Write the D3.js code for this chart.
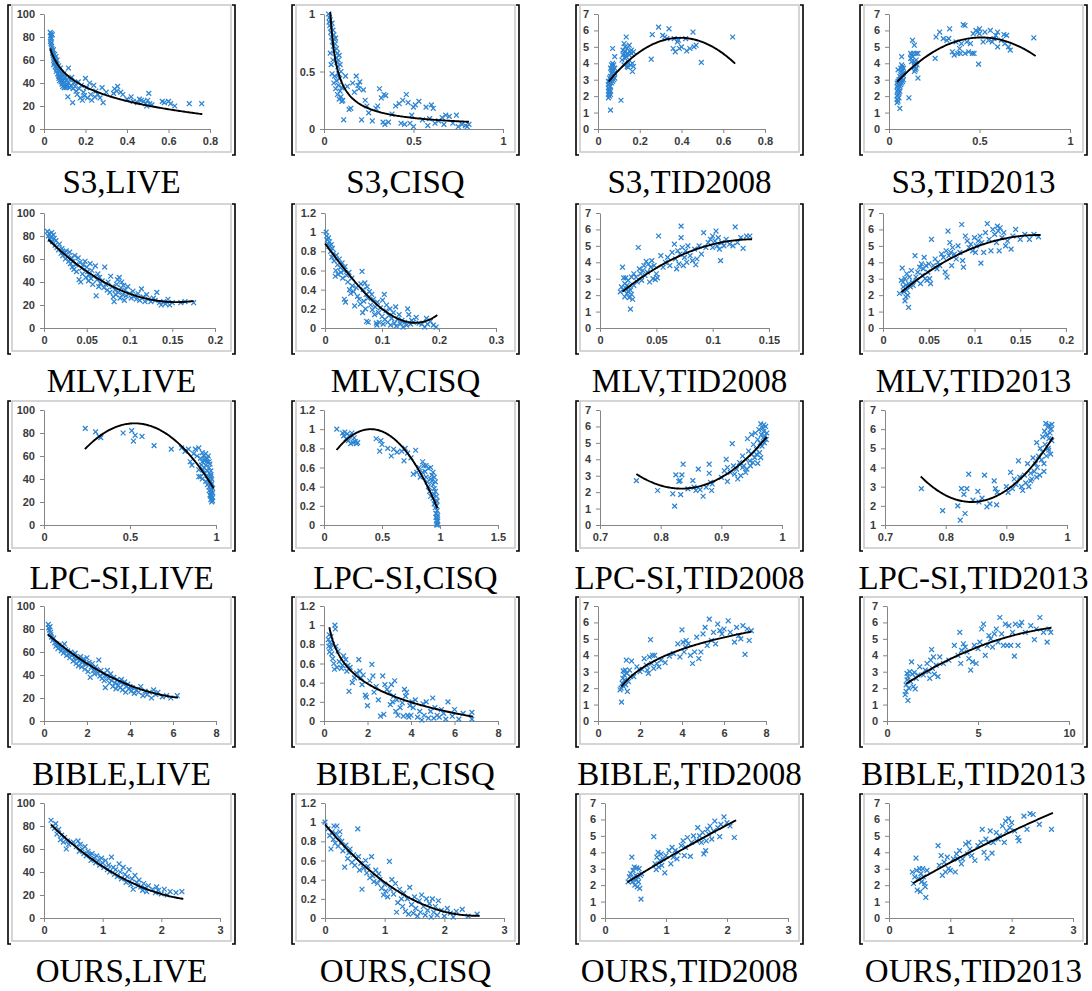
<!DOCTYPE html>
<html><head><meta charset="utf-8">
<script src="https://cdn.jsdelivr.net/npm/d3@7"></script>
<style>body{margin:0;background:#fff}svg{display:block}</style>
</head><body>
<svg id="chart" width="1092" height="991"></svg>
<script>
// ---------- DATA ----------
const methods = ["S3", "MLV", "LPC-SI", "BIBLE", "OURS"];
const datasets = ["LIVE", "CISQ", "TID2008", "TID2013"];

// x tick values per panel (row-major)
const xTicks = [
  [0,0.2,0.4,0.6,0.8],[0,0.5,1],[0,0.2,0.4,0.6,0.8],[0,0.5,1],
  [0,0.05,0.1,0.15,0.2],[0,0.1,0.2,0.3],[0,0.05,0.1,0.15],[0,0.05,0.1,0.15,0.2],
  [0,0.5,1],[0,0.5,1,1.5],[0.7,0.8,0.9,1],[0.7,0.8,0.9,1],
  [0,2,4,6,8],[0,2,4,6,8],[0,2,4,6,8],[0,5,10],
  [0,1,2,3],[0,1,2,3],[0,1,2,3],[0,1,2,3]
];
const yLive = [0,20,40,60,80,100];
const yCisqS3 = [0,0.5,1];
const yCisq = [0,0.2,0.4,0.6,0.8,1,1.2];
const yTid = [0,1,2,3,4,5,6,7];
const yTidLpc = [1,2,3,4,5,6,7];
const yTicks = [
  yLive,yCisqS3,yTid,yTid,
  yLive,yCisq,yTid,yTid,
  yLive,yCisq,yTid,yTidLpc,
  yLive,yCisq,yTid,yTid,
  yLive,yCisq,yTid,yTid
];

const s3Live = [[0.030,84],[0.032,81],[0.033,78],[0.031,76],[0.035,83],[0.036,79],[0.034,74],[0.037,72],[0.038,70],[0.040,82],[0.042,68],[0.041,66],[0.044,64],[0.045,69],[0.046,62],[0.048,60],[0.050,58],[0.047,56],[0.052,65],[0.053,61],[0.055,57],[0.054,54],[0.057,63],[0.058,59],[0.060,52],[0.059,50],[0.062,56],[0.063,60],[0.065,54],[0.066,48],[0.068,51],[0.070,46],[0.071,55],[0.072,44],[0.074,50],[0.075,42],[0.077,47],[0.079,53],[0.080,45],[0.082,41],[0.084,49],[0.085,43],[0.087,39],[0.089,46],[0.090,37],[0.092,42],[0.094,40],[0.095,48],[0.097,36],[0.099,44],[0.100,41],[0.102,38],[0.104,45],[0.106,36],[0.108,42],[0.110,39],[0.112,37],[0.115,28],[0.118,53],[0.120,40],[0.123,36],[0.126,43],[0.130,38],[0.134,45],[0.138,23],[0.140,35],[0.145,40],[0.150,37],[0.155,33],[0.160,30],[0.165,41],[0.170,35],[0.175,27],[0.180,38],[0.185,25],[0.190,32],[0.195,29],[0.200,44],[0.205,36],[0.210,27],[0.220,40],[0.225,30],[0.230,25],[0.240,38],[0.245,28],[0.250,33],[0.260,30],[0.270,27],[0.280,36],[0.285,23],[0.300,32],[0.335,31],[0.340,35],[0.350,33],[0.355,37],[0.370,32],[0.380,30],[0.400,26],[0.420,28],[0.430,24],[0.450,23],[0.460,26],[0.470,25],[0.480,24],[0.490,22],[0.495,20],[0.500,25],[0.505,31],[0.510,22],[0.520,21],[0.570,24],[0.580,23],[0.600,24],[0.610,22],[0.630,20],[0.700,22],[0.760,22]];
const s3Cisq = [[0.025,1.0],[0.03,0.97],[0.028,0.93],[0.035,0.95],[0.032,0.9],[0.04,0.88],[0.038,0.84],[0.045,0.92],[0.042,0.8],[0.05,0.86],[0.048,0.76],[0.052,0.72],[0.055,0.82],[0.058,0.78],[0.06,0.68],[0.062,0.74],[0.065,0.79],[0.07,0.7],[0.068,0.62],[0.075,0.66],[0.072,0.58],[0.08,0.6],[0.078,0.54],[0.085,0.64],[0.082,0.48],[0.09,0.56],[0.088,0.44],[0.095,0.5],[0.035,0.66],[0.04,0.56],[0.045,0.48],[0.05,0.6],[0.055,0.4],[0.06,0.46],[0.065,0.35],[0.07,0.42],[0.075,0.3],[0.08,0.38],[0.085,0.26],[0.09,0.33],[0.095,0.28],[0.1,0.24],[0.1,0.36],[0.105,0.25],[0.11,0.08],[0.12,0.46],[0.13,0.37],[0.14,0.17],[0.15,0.18],[0.16,0.4],[0.17,0.32],[0.18,0.46],[0.19,0.38],[0.195,0.35],[0.2,0.41],[0.21,0.08],[0.22,0.34],[0.23,0.25],[0.24,0.2],[0.25,0.14],[0.27,0.07],[0.29,0.18],[0.3,0.2],[0.31,0.35],[0.32,0.27],[0.33,0.06],[0.335,0.3],[0.34,0.04],[0.345,0.29],[0.36,0.06],[0.38,0.13],[0.4,0.2],[0.42,0.22],[0.43,0.05],[0.44,0.25],[0.45,0.04],[0.46,0.3],[0.47,0.23],[0.48,0.05],[0.49,0.12],[0.5,0.19],[0.5,0.02],[0.51,0.21],[0.53,0.24],[0.55,0.08],[0.57,0.19],[0.58,0.03],[0.59,0.09],[0.6,0.21],[0.61,0.18],[0.62,0.05],[0.64,0.07],[0.66,0.1],[0.67,0.04],[0.68,0.12],[0.7,0.11],[0.72,0.05],[0.74,0.12],[0.75,0.02],[0.77,0.04],[0.79,0.03],[0.8,0.02],[0.81,0.04]];
const s3Tid08 = [[0.05,1.9],[0.05,2.1],[0.05,2.3],[0.05,2.5],[0.05,2.7],[0.05,2.9],[0.055,2.0],[0.055,2.2],[0.055,2.4],[0.055,2.6],[0.055,2.8],[0.055,3.1],[0.06,1.15],[0.06,2.1],[0.06,2.3],[0.06,2.6],[0.06,3.0],[0.06,3.2],[0.06,3.7],[0.065,2.8],[0.065,3.1],[0.065,3.4],[0.065,3.6],[0.065,3.9],[0.07,2.9],[0.07,3.2],[0.07,3.5],[0.07,3.8],[0.07,4.0],[0.07,4.9],[0.075,3.0],[0.075,3.3],[0.075,3.6],[0.075,3.9],[0.08,3.1],[0.08,3.4],[0.08,3.7],[0.08,4.4],[0.11,1.75],[0.115,4.2],[0.12,4.5],[0.12,4.8],[0.125,3.9],[0.125,4.6],[0.125,5.2],[0.13,4.3],[0.13,4.7],[0.13,5.0],[0.135,4.4],[0.135,5.6],[0.14,3.8],[0.14,4.6],[0.14,4.9],[0.145,4.0],[0.145,3.75],[0.15,4.5],[0.15,5.1],[0.155,3.9],[0.155,4.7],[0.16,4.6],[0.16,4.8],[0.165,3.5],[0.165,4.0],[0.17,3.8],[0.17,4.7],[0.255,4.25],[0.26,5.75],[0.29,6.2],[0.31,5.7],[0.32,5.6],[0.33,5.5],[0.34,6.1],[0.36,4.9],[0.365,5.5],[0.37,4.7],[0.38,5.3],[0.385,5.4],[0.39,4.9],[0.4,5.0],[0.42,5.5],[0.425,4.75],[0.44,4.9],[0.455,5.9],[0.46,5.0],[0.47,5.1],[0.495,4.05],[0.645,5.6]];
const s3Tid13 = [[0.045,1.6],[0.045,1.8],[0.045,2.0],[0.045,2.3],[0.045,2.6],[0.045,2.8],[0.05,1.7],[0.05,2.1],[0.05,2.4],[0.05,2.7],[0.05,2.9],[0.05,3.6],[0.055,1.9],[0.055,2.2],[0.055,2.5],[0.055,3.0],[0.06,1.25],[0.06,2.3],[0.06,2.6],[0.06,2.9],[0.06,3.2],[0.065,2.7],[0.065,3.0],[0.065,3.3],[0.065,3.7],[0.07,2.8],[0.07,3.1],[0.07,3.5],[0.07,3.9],[0.07,4.4],[0.075,2.9],[0.075,3.3],[0.075,3.6],[0.075,3.8],[0.08,3.0],[0.08,3.4],[0.08,3.7],[0.11,1.9],[0.12,4.3],[0.12,4.6],[0.125,4.1],[0.125,4.5],[0.13,4.4],[0.13,5.4],[0.135,4.6],[0.14,3.5],[0.14,3.8],[0.14,4.1],[0.14,5.1],[0.145,3.6],[0.145,4.0],[0.15,3.7],[0.15,4.2],[0.15,4.6],[0.155,3.9],[0.16,3.1],[0.16,4.6],[0.255,4.3],[0.26,5.6],[0.28,5.9],[0.3,5.5],[0.32,5.4],[0.33,5.5],[0.335,6.1],[0.35,4.7],[0.36,4.5],[0.37,5.3],[0.38,4.6],[0.39,4.9],[0.395,4.6],[0.4,5.2],[0.41,6.35],[0.42,6.3],[0.42,4.6],[0.43,5.3],[0.44,4.7],[0.45,5.2],[0.46,4.6],[0.465,5.8],[0.47,4.6],[0.48,6.0],[0.49,5.9],[0.495,3.95],[0.5,6.1],[0.5,5.8],[0.52,5.3],[0.53,5.9],[0.55,5.4],[0.56,6.0],[0.57,5.3],[0.58,5.5],[0.59,5.7],[0.6,5.0],[0.6,5.9],[0.62,5.4],[0.635,5.75],[0.64,5.2],[0.65,5.7],[0.66,5.0],[0.67,4.8],[0.8,5.55]];
const mlvLive = [[0.004,84],[0.005,80],[0.006,82],[0.007,77],[0.008,79],[0.009,83],[0.01,75],[0.011,81],[0.012,78],[0.013,72],[0.014,76],[0.015,70],[0.017,68],[0.018,73],[0.02,65],[0.021,69],[0.022,63],[0.024,66],[0.025,60],[0.026,67],[0.028,62],[0.029,58],[0.03,66],[0.031,56],[0.032,61],[0.033,53],[0.034,58],[0.035,51],[0.036,63],[0.037,55],[0.038,49],[0.04,61],[0.041,42],[0.042,57],[0.043,40],[0.044,52],[0.045,47],[0.046,55],[0.048,58],[0.049,44],[0.05,53],[0.051,49],[0.052,41],[0.053,46],[0.054,56],[0.055,43],[0.056,50],[0.057,38],[0.058,45],[0.06,54],[0.061,28],[0.062,42],[0.063,47],[0.064,36],[0.065,44],[0.066,39],[0.068,41],[0.07,35],[0.071,53],[0.072,38],[0.074,33],[0.075,40],[0.077,31],[0.078,45],[0.08,36],[0.081,27],[0.082,23],[0.083,33],[0.084,29],[0.085,38],[0.086,42],[0.087,31],[0.088,44],[0.089,26],[0.09,35],[0.091,40],[0.092,29],[0.093,37],[0.094,24],[0.095,33],[0.096,28],[0.098,36],[0.1,30],[0.102,26],[0.104,32],[0.106,28],[0.108,25],[0.11,30],[0.112,24],[0.114,34],[0.116,27],[0.118,23],[0.12,29],[0.122,25],[0.125,23],[0.128,26],[0.13,24],[0.132,31],[0.135,22],[0.137,20],[0.14,23],[0.142,21],[0.145,25],[0.147,20],[0.15,22],[0.16,22],[0.165,23],[0.175,22]];
const mlvCisq = [[0.002,1.0],[0.003,0.96],[0.004,0.92],[0.005,0.88],[0.006,0.94],[0.007,0.85],[0.008,0.9],[0.01,0.8],[0.011,0.87],[0.012,0.74],[0.013,0.83],[0.015,0.78],[0.016,0.7],[0.018,0.54],[0.019,0.6],[0.02,0.76],[0.022,0.66],[0.023,0.56],[0.025,0.72],[0.027,0.63],[0.028,0.58],[0.03,0.68],[0.031,0.52],[0.033,0.6],[0.034,0.3],[0.035,0.64],[0.036,0.27],[0.038,0.55],[0.04,0.48],[0.042,0.58],[0.043,0.4],[0.045,0.36],[0.047,0.52],[0.048,0.44],[0.05,0.38],[0.052,0.23],[0.055,0.42],[0.057,0.33],[0.06,0.3],[0.062,0.25],[0.063,0.46],[0.065,0.59],[0.066,0.16],[0.067,0.4],[0.068,0.28],[0.07,0.47],[0.071,0.2],[0.072,0.35],[0.073,0.07],[0.074,0.43],[0.075,0.31],[0.076,0.06],[0.078,0.38],[0.08,0.24],[0.082,0.35],[0.083,0.19],[0.085,0.3],[0.087,0.14],[0.088,0.22],[0.09,0.05],[0.091,0.03],[0.092,0.27],[0.094,0.16],[0.095,0.06],[0.097,0.21],[0.1,0.12],[0.101,0.29],[0.102,0.04],[0.104,0.35],[0.105,0.09],[0.107,0.18],[0.108,0.24],[0.11,0.06],[0.112,0.13],[0.114,0.2],[0.115,0.03],[0.117,0.1],[0.12,0.16],[0.122,0.05],[0.124,0.22],[0.125,0.02],[0.127,0.09],[0.13,0.14],[0.132,0.04],[0.135,0.08],[0.137,0.01],[0.14,0.06],[0.143,0.03],[0.145,0.2],[0.147,0.14],[0.15,0.04],[0.152,0.08],[0.155,0.06],[0.16,0.11],[0.165,0.05],[0.17,0.04],[0.175,0.01],[0.178,0.1],[0.18,0.04],[0.185,0.07],[0.19,0.03],[0.195,0.01]];
const mlvTid08 = [[0.018,2.2],[0.019,2.5],[0.02,3.7],[0.021,2.3],[0.021,3.05],[0.022,2.7],[0.022,1.9],[0.023,2.4],[0.023,3.05],[0.024,2.1],[0.024,2.6],[0.025,2.2],[0.025,2.9],[0.026,1.85],[0.026,2.45],[0.027,2.3],[0.027,1.15],[0.028,3.1],[0.028,2.05],[0.029,1.75],[0.03,3.3],[0.03,2.6],[0.032,3.1],[0.033,2.8],[0.034,4.9],[0.035,3.6],[0.036,3.3],[0.037,2.9],[0.038,3.5],[0.039,3.8],[0.04,3.2],[0.041,4.05],[0.042,3.4],[0.043,3.9],[0.044,2.8],[0.045,3.7],[0.046,4.1],[0.047,3.0],[0.048,3.8],[0.049,2.95],[0.05,3.3],[0.051,3.05],[0.052,5.6],[0.054,4.4],[0.056,3.7],[0.058,4.0],[0.06,4.3],[0.062,3.8],[0.064,4.6],[0.066,5.1],[0.067,4.2],[0.068,3.6],[0.069,4.7],[0.07,3.9],[0.071,4.5],[0.072,6.2],[0.072,5.5],[0.073,4.9],[0.074,3.8],[0.075,4.3],[0.076,4.7],[0.077,4.0],[0.078,5.0],[0.08,4.4],[0.082,4.1],[0.084,4.8],[0.085,3.85],[0.086,4.2],[0.088,5.0],[0.09,4.5],[0.092,5.8],[0.094,4.9],[0.096,5.2],[0.098,5.4],[0.1,5.6],[0.1,4.9],[0.102,5.3],[0.103,5.9],[0.104,5.0],[0.105,5.5],[0.106,4.8],[0.107,4.1],[0.108,5.2],[0.11,5.0],[0.112,5.4],[0.115,5.1],[0.118,5.0],[0.12,6.15],[0.122,5.2],[0.125,5.5],[0.127,4.85],[0.13,5.6],[0.133,5.6]];
const mlvTid13 = [[0.018,2.1],[0.02,2.9],[0.021,3.65],[0.022,2.5],[0.022,2.8],[0.023,2.2],[0.024,3.0],[0.024,1.65],[0.025,2.6],[0.025,1.9],[0.026,2.3],[0.026,3.3],[0.027,2.0],[0.028,1.25],[0.028,2.7],[0.029,3.1],[0.03,2.5],[0.031,3.5],[0.032,2.8],[0.033,2.6],[0.035,4.4],[0.036,3.1],[0.037,2.9],[0.038,3.4],[0.04,3.7],[0.041,2.7],[0.042,3.9],[0.043,3.2],[0.044,3.6],[0.045,4.3],[0.046,3.0],[0.047,3.8],[0.048,2.9],[0.049,3.4],[0.05,3.9],[0.051,3.0],[0.052,2.7],[0.053,5.4],[0.055,3.8],[0.057,4.2],[0.059,3.6],[0.06,4.0],[0.062,3.8],[0.064,4.5],[0.066,4.3],[0.068,3.4],[0.069,4.7],[0.07,3.1],[0.071,5.9],[0.072,4.4],[0.073,5.2],[0.074,4.6],[0.075,3.8],[0.076,4.9],[0.078,4.5],[0.08,4.2],[0.082,5.0],[0.084,4.6],[0.086,6.3],[0.087,4.1],[0.088,3.7],[0.09,5.6],[0.092,5.3],[0.094,4.9],[0.096,5.1],[0.098,4.7],[0.1,5.5],[0.101,4.6],[0.102,5.0],[0.104,5.3],[0.106,5.6],[0.107,3.95],[0.108,5.2],[0.11,4.6],[0.112,5.8],[0.114,6.35],[0.116,5.4],[0.118,4.7],[0.12,6.0],[0.122,5.7],[0.124,5.2],[0.125,6.2],[0.126,5.9],[0.127,4.7],[0.128,6.1],[0.13,5.5],[0.132,5.8],[0.134,5.0],[0.136,5.3],[0.14,4.8],[0.142,5.6],[0.145,6.0],[0.15,5.4],[0.155,5.7],[0.16,5.4],[0.165,5.7],[0.17,5.55]];
const lpcLive = [[0.24,84],[0.3,81],[0.32,77],[0.33,76],[0.46,80],[0.51,82],[0.52,73],[0.53,78],[0.57,77],[0.64,69],[0.74,66],[0.8,67],[0.82,64],[0.84,66],[0.85,55],[0.86,52],[0.87,62],[0.88,66],[0.89,60],[0.9,67],[0.9,48],[0.91,58],[0.91,42],[0.92,63],[0.92,55],[0.92,40],[0.93,60],[0.93,50],[0.93,45],[0.94,62],[0.94,57],[0.94,52],[0.94,38],[0.95,58],[0.95,47],[0.95,43],[0.95,35],[0.96,55],[0.96,50],[0.96,45],[0.96,40],[0.96,33],[0.96,30],[0.97,47],[0.97,42],[0.97,38],[0.97,34],[0.97,31],[0.97,28],[0.97,25],[0.97,22],[0.975,36],[0.975,30],[0.975,26],[0.975,23],[0.975,20],[0.98,28],[0.98,24],[0.98,21],[0.98,32],[0.965,53],[0.955,60],[0.945,55],[0.935,56],[0.925,48],[0.915,52],[0.9,42],[0.96,37],[0.97,44],[0.965,26],[0.975,40]];
const lpcCisq = [[0.11,1.0],[0.16,0.96],[0.17,0.93],[0.18,0.97],[0.19,0.9],[0.2,0.95],[0.21,0.88],[0.22,0.93],[0.23,0.85],[0.24,0.96],[0.25,0.86],[0.26,0.91],[0.27,0.87],[0.28,0.85],[0.29,0.86],[0.45,0.9],[0.48,0.77],[0.49,0.88],[0.5,0.84],[0.55,0.8],[0.58,0.72],[0.6,0.79],[0.63,0.76],[0.67,0.77],[0.69,0.67],[0.7,0.8],[0.72,0.75],[0.75,0.7],[0.77,0.53],[0.79,0.78],[0.8,0.55],[0.82,0.6],[0.83,0.5],[0.85,0.66],[0.86,0.62],[0.87,0.56],[0.88,0.5],[0.89,0.45],[0.9,0.59],[0.9,0.4],[0.91,0.35],[0.92,0.6],[0.92,0.3],[0.93,0.52],[0.93,0.46],[0.94,0.42],[0.94,0.28],[0.95,0.38],[0.95,0.32],[0.95,0.22],[0.96,0.35],[0.96,0.25],[0.96,0.18],[0.97,0.3],[0.97,0.2],[0.97,0.12],[0.97,0.05],[0.975,0.15],[0.975,0.08],[0.975,0.02],[0.98,0.1],[0.98,0.04],[0.98,0.0],[0.965,0.12],[0.965,0.08],[0.97,0.0],[0.975,0.25],[0.96,0.45],[0.95,0.5],[0.94,0.55],[0.92,0.48],[0.88,0.62],[0.85,0.55]];
const lpcTid08 = [[0.76,2.7],[0.795,2.1],[0.82,1.9],[0.823,1.15],[0.825,3.05],[0.83,2.65],[0.832,2.7],[0.833,1.85],[0.835,3.05],[0.837,3.7],[0.845,2.2],[0.853,2.7],[0.855,2.3],[0.858,2.1],[0.862,3.4],[0.865,2.15],[0.87,1.75],[0.875,2.3],[0.88,3.7],[0.88,3.15],[0.882,2.6],[0.884,2.1],[0.885,2.5],[0.9,2.9],[0.905,3.3],[0.908,4.0],[0.91,2.65],[0.91,3.5],[0.915,3.2],[0.918,4.95],[0.92,3.6],[0.922,3.1],[0.925,3.4],[0.927,2.8],[0.93,3.8],[0.932,3.0],[0.935,4.2],[0.937,3.6],[0.94,4.0],[0.942,3.4],[0.943,5.25],[0.945,4.5],[0.947,3.9],[0.95,4.3],[0.95,5.5],[0.952,3.8],[0.953,4.9],[0.955,4.1],[0.956,5.6],[0.958,4.6],[0.96,5.2],[0.96,3.75],[0.962,5.8],[0.963,4.4],[0.964,5.0],[0.965,6.15],[0.965,4.1],[0.966,5.5],[0.967,4.8],[0.968,5.9],[0.969,5.3],[0.97,6.1],[0.97,5.7],[0.971,5.0],[0.972,5.4],[0.973,6.0],[0.974,5.2],[0.975,5.6],[0.94,3.2],[0.948,3.6],[0.958,4.3],[0.935,3.5]];
const lpcTid13 = [[0.76,2.9],[0.795,1.75],[0.82,2.0],[0.824,1.25],[0.826,2.9],[0.83,2.6],[0.832,1.6],[0.835,2.9],[0.838,3.65],[0.845,2.3],[0.853,2.75],[0.855,2.2],[0.86,2.4],[0.864,3.6],[0.868,1.95],[0.873,2.1],[0.88,3.3],[0.882,2.9],[0.884,2.05],[0.885,2.7],[0.9,3.0],[0.903,2.7],[0.907,3.75],[0.91,2.9],[0.913,3.4],[0.916,3.1],[0.92,4.35],[0.922,3.5],[0.925,3.0],[0.927,2.8],[0.93,3.6],[0.932,3.2],[0.935,4.2],[0.937,3.0],[0.94,3.7],[0.942,3.4],[0.944,4.5],[0.946,3.8],[0.948,4.2],[0.95,5.3],[0.951,4.0],[0.953,4.6],[0.955,3.6],[0.956,5.0],[0.958,4.4],[0.96,5.6],[0.96,4.8],[0.962,4.2],[0.963,5.9],[0.964,5.2],[0.965,6.3],[0.966,4.6],[0.967,5.7],[0.968,6.1],[0.969,5.0],[0.97,5.5],[0.971,6.2],[0.972,5.8],[0.973,4.7],[0.974,6.0],[0.975,5.4],[0.975,6.25],[0.97,4.9],[0.962,3.8],[0.95,3.5],[0.94,3.3]];
const bibleLive = [[0.2,84],[0.22,81],[0.25,79],[0.28,82],[0.3,77],[0.32,75],[0.35,73],[0.4,70],[0.45,72],[0.5,68],[0.55,65],[0.6,67],[0.65,63],[0.7,66],[0.75,64],[0.8,61],[0.85,63],[0.9,59],[0.95,67],[1.0,62],[1.05,57],[1.1,61],[1.15,58],[1.2,55],[1.25,60],[1.3,57],[1.35,52],[1.4,55],[1.45,59],[1.5,50],[1.55,54],[1.6,48],[1.65,52],[1.7,56],[1.75,47],[1.8,51],[1.85,54],[1.9,45],[1.95,49],[2.0,55],[2.05,43],[2.1,51],[2.15,38],[2.2,47],[2.25,50],[2.3,44],[2.35,41],[2.4,47],[2.45,45],[2.5,42],[2.55,53],[2.6,39],[2.65,44],[2.7,37],[2.75,41],[2.8,35],[2.85,29],[2.9,39],[2.95,44],[3.0,37],[3.05,33],[3.1,41],[3.15,35],[3.2,30],[3.25,38],[3.3,33],[3.35,28],[3.4,36],[3.45,31],[3.5,34],[3.55,29],[3.6,36],[3.65,27],[3.7,32],[3.75,34],[3.8,25],[3.85,30],[3.9,32],[3.95,28],[4.0,30],[4.05,26],[4.1,29],[4.2,24],[4.3,27],[4.4,25],[4.5,30],[4.6,22],[4.7,26],[4.8,23],[4.9,25],[5.0,20],[5.1,27],[5.2,23],[5.3,25],[5.5,21],[5.7,22],[5.9,20],[6.2,22]];
const bibleCisq = [[0.2,0.85],[0.22,0.78],[0.24,0.9],[0.25,0.72],[0.27,0.82],[0.3,0.76],[0.32,0.88],[0.35,0.7],[0.38,0.8],[0.4,0.65],[0.45,0.6],[0.48,0.54],[0.5,1.0],[0.52,0.96],[0.55,0.78],[0.6,0.56],[0.65,0.73],[0.7,0.62],[0.8,0.55],[0.85,0.58],[0.9,0.68],[1.0,0.64],[1.05,0.52],[1.1,0.58],[1.15,0.31],[1.2,0.56],[1.3,0.4],[1.4,0.45],[1.5,0.5],[1.6,0.64],[1.65,0.52],[1.7,0.45],[1.75,0.38],[1.8,0.48],[1.9,0.27],[1.95,0.25],[2.0,0.16],[2.1,0.42],[2.2,0.59],[2.25,0.47],[2.3,0.3],[2.4,0.36],[2.5,0.22],[2.6,0.05],[2.7,0.47],[2.75,0.07],[2.8,0.38],[2.9,0.33],[3.0,0.3],[3.05,0.17],[3.1,0.38],[3.15,0.2],[3.2,0.26],[3.25,0.42],[3.3,0.1],[3.35,0.22],[3.4,0.06],[3.5,0.14],[3.6,0.19],[3.65,0.05],[3.7,0.33],[3.75,0.26],[3.8,0.3],[3.85,0.06],[3.9,0.04],[3.95,0.16],[4.0,0.06],[4.05,0.2],[4.1,0.14],[4.2,0.22],[4.3,0.04],[4.4,0.1],[4.5,0.01],[4.55,0.18],[4.6,0.06],[4.7,0.2],[4.8,0.03],[4.9,0.1],[5.0,0.24],[5.05,0.03],[5.1,0.14],[5.2,0.06],[5.3,0.04],[5.4,0.12],[5.5,0.08],[5.6,0.02],[5.7,0.2],[5.9,0.05],[6.0,0.12],[6.2,0.02],[6.4,0.08],[6.8,0.09],[6.8,0.02]];
const bibleTid08 = [[1.05,1.9],[1.1,2.0],[1.12,1.15],[1.15,2.3],[1.18,2.6],[1.2,3.05],[1.22,2.1],[1.25,2.8],[1.27,2.5],[1.3,3.1],[1.32,2.2],[1.35,3.7],[1.38,2.9],[1.4,1.8],[1.45,2.4],[1.5,3.1],[1.55,2.7],[1.6,3.65],[1.7,2.7],[1.85,3.3],[2.0,3.0],[2.1,3.15],[2.2,3.8],[2.3,3.4],[2.35,3.1],[2.4,2.9],[2.45,3.9],[2.5,4.95],[2.55,3.5],[2.6,4.0],[2.65,3.2],[2.7,4.0],[2.8,3.5],[2.9,3.3],[3.0,3.7],[3.2,3.55],[3.4,3.95],[3.6,4.1],[3.8,4.7],[3.9,3.9],[4.0,5.55],[4.05,4.8],[4.1,4.2],[4.15,4.5],[4.2,4.9],[4.3,4.7],[4.4,4.0],[4.5,3.5],[4.6,4.2],[4.7,5.1],[4.8,3.8],[4.9,4.2],[5.0,5.3],[5.1,5.7],[5.2,4.6],[5.3,6.2],[5.4,4.9],[5.5,5.4],[5.6,4.7],[5.7,5.9],[5.8,5.5],[5.9,5.3],[6.0,5.6],[6.2,6.1],[6.3,5.4],[6.5,4.8],[6.6,5.7],[6.7,5.2],[6.8,5.0],[6.9,5.8],[7.0,4.05],[7.1,5.6],[7.2,4.9],[7.3,5.5]];
const bibleTid13 = [[1.0,1.6],[1.05,2.2],[1.05,1.8],[1.1,2.5],[1.1,2.9],[1.15,1.25],[1.15,2.7],[1.2,2.0],[1.25,3.0],[1.3,2.4],[1.35,3.6],[1.4,2.85],[1.45,2.1],[1.5,2.95],[1.55,1.95],[1.6,2.6],[1.7,2.8],[1.8,3.3],[2.0,2.8],[2.1,3.1],[2.2,3.5],[2.3,3.0],[2.35,2.6],[2.4,3.7],[2.45,4.35],[2.5,3.2],[2.55,3.9],[2.6,2.85],[2.7,3.4],[2.8,2.7],[2.9,3.9],[3.1,3.5],[3.4,3.7],[3.7,4.6],[3.9,4.0],[4.0,5.4],[4.05,3.5],[4.1,4.3],[4.2,4.7],[4.3,4.5],[4.4,4.2],[4.5,3.8],[4.6,3.1],[4.7,3.6],[4.8,4.6],[4.9,3.5],[5.0,4.4],[5.1,4.8],[5.2,5.6],[5.3,5.9],[5.4,4.0],[5.5,4.6],[5.6,5.2],[5.7,5.0],[5.8,4.5],[5.9,5.3],[6.0,5.6],[6.1,4.8],[6.2,6.3],[6.3,5.3],[6.4,4.6],[6.5,5.9],[6.6,4.6],[6.7,5.8],[6.8,4.6],[6.9,5.4],[7.0,3.95],[7.05,5.9],[7.2,4.6],[7.3,5.8],[7.4,6.0],[7.6,5.4],[7.9,5.8],[8.1,4.95],[8.2,5.6],[8.4,6.3],[8.6,5.4],[8.8,4.8],[8.9,5.6],[9.0,5.4]];
const oursLive = [[0.12,85],[0.15,80],[0.18,78],[0.2,82],[0.22,73],[0.25,77],[0.28,68],[0.3,72],[0.33,66],[0.35,70],[0.38,60],[0.4,67],[0.42,64],[0.5,66],[0.55,62],[0.58,67],[0.6,58],[0.62,64],[0.65,60],[0.68,56],[0.7,62],[0.72,54],[0.75,58],[0.78,55],[0.8,50],[0.82,56],[0.85,52],[0.88,48],[0.9,54],[0.92,50],[0.95,46],[0.98,52],[1.0,48],[1.02,44],[1.05,50],[1.08,42],[1.1,46],[1.12,40],[1.15,53],[1.18,44],[1.2,38],[1.22,42],[1.25,36],[1.28,47],[1.3,40],[1.32,34],[1.35,44],[1.38,38],[1.4,31],[1.42,36],[1.45,42],[1.48,29],[1.5,34],[1.52,25],[1.55,37],[1.58,31],[1.6,28],[1.62,33],[1.65,27],[1.68,24],[1.7,30],[1.72,26],[1.75,23],[1.78,28],[1.85,25],[1.9,22],[1.92,27],[1.95,24],[2.0,21],[2.05,25],[2.1,20],[2.15,23],[2.25,22],[2.35,23]];
const oursCisq = [[0.0,1.0],[0.05,0.93],[0.08,0.86],[0.1,0.72],[0.12,0.9],[0.14,0.82],[0.15,0.96],[0.17,0.78],[0.18,0.88],[0.2,0.96],[0.22,0.75],[0.24,0.84],[0.25,0.9],[0.28,0.8],[0.3,0.7],[0.33,0.53],[0.35,0.76],[0.38,0.62],[0.4,0.68],[0.42,0.72],[0.45,0.58],[0.48,0.66],[0.5,0.55],[0.52,0.62],[0.55,0.93],[0.56,0.64],[0.58,0.5],[0.6,0.57],[0.62,0.3],[0.65,0.52],[0.68,0.6],[0.7,0.47],[0.72,0.54],[0.75,0.42],[0.78,0.64],[0.8,0.44],[0.82,0.38],[0.85,0.5],[0.88,0.36],[0.9,0.46],[0.92,0.4],[0.95,0.31],[0.98,0.24],[1.0,0.35],[1.02,0.28],[1.05,0.22],[1.08,0.59],[1.1,0.3],[1.12,0.4],[1.15,0.25],[1.18,0.36],[1.2,0.06],[1.22,0.16],[1.25,0.3],[1.28,0.2],[1.3,0.12],[1.32,0.26],[1.35,0.07],[1.38,0.2],[1.4,0.04],[1.42,0.32],[1.45,0.14],[1.48,0.05],[1.5,0.22],[1.52,0.1],[1.55,0.02],[1.58,0.18],[1.6,0.06],[1.62,0.24],[1.65,0.12],[1.68,0.03],[1.7,0.2],[1.72,0.08],[1.75,0.15],[1.78,0.01],[1.8,0.2],[1.82,0.06],[1.85,0.12],[1.88,0.03],[1.9,0.18],[1.95,0.08],[2.0,0.02],[2.05,0.1],[2.1,0.05],[2.15,0.01],[2.2,0.07],[2.3,0.09],[2.4,0.02],[2.55,0.04]];
const oursTid08 = [[0.38,2.2],[0.4,2.5],[0.42,2.7],[0.44,3.7],[0.45,2.2],[0.46,2.9],[0.47,2.4],[0.48,3.1],[0.49,2.0],[0.5,2.6],[0.51,2.3],[0.52,3.05],[0.53,1.9],[0.54,2.5],[0.55,2.2],[0.56,3.0],[0.57,1.8],[0.58,2.6],[0.59,1.15],[0.6,2.7],[0.8,4.95],[0.82,3.3],[0.84,2.95],[0.85,3.7],[0.87,4.0],[0.88,3.1],[0.9,3.5],[0.92,3.9],[0.93,3.2],[0.95,3.6],[0.98,2.75],[1.0,3.8],[1.05,4.1],[1.08,3.3],[1.1,4.3],[1.12,3.7],[1.15,4.1],[1.18,3.6],[1.2,4.0],[1.25,4.4],[1.28,4.7],[1.3,3.8],[1.32,4.3],[1.35,4.9],[1.4,3.75],[1.42,4.6],[1.45,5.0],[1.5,4.7],[1.52,5.5],[1.55,5.0],[1.58,4.6],[1.6,5.2],[1.62,3.9],[1.65,4.1],[1.66,4.7],[1.68,5.4],[1.7,5.1],[1.72,5.6],[1.75,4.8],[1.78,5.3],[1.8,5.9],[1.85,5.5],[1.88,4.95],[1.9,5.7],[1.95,6.15],[2.0,5.8],[2.05,5.6],[2.12,4.9]];
const oursTid13 = [[0.38,2.8],[0.4,2.1],[0.42,2.5],[0.44,3.65],[0.45,2.9],[0.46,1.7],[0.48,2.4],[0.5,3.0],[0.51,1.6],[0.52,2.7],[0.53,2.2],[0.55,3.0],[0.56,2.5],[0.58,2.1],[0.59,1.9],[0.6,1.25],[0.62,2.9],[0.8,4.4],[0.82,3.2],[0.85,3.8],[0.87,2.6],[0.9,3.4],[0.92,2.8],[0.95,3.7],[0.97,3.0],[1.0,2.9],[1.05,3.6],[1.08,2.8],[1.1,3.9],[1.12,3.6],[1.15,4.1],[1.18,3.3],[1.2,3.6],[1.25,4.5],[1.28,3.9],[1.3,4.6],[1.32,4.2],[1.35,3.8],[1.4,3.5],[1.45,4.4],[1.5,4.6],[1.52,5.4],[1.55,4.0],[1.58,4.8],[1.6,3.65],[1.62,4.6],[1.65,5.3],[1.68,3.95],[1.7,4.6],[1.75,5.2],[1.78,4.8],[1.8,5.0],[1.85,5.6],[1.88,4.6],[1.9,5.9],[1.92,5.3],[1.95,6.05],[1.97,5.5],[2.0,5.8],[2.05,5.3],[2.1,4.9],[2.12,4.7],[2.2,6.2],[2.25,5.4],[2.3,6.35],[2.35,6.3],[2.45,5.7],[2.65,5.4]];

const points = [
  s3Live, s3Cisq, s3Tid08, s3Tid13,
  mlvLive, mlvCisq, mlvTid08, mlvTid13,
  lpcLive, lpcCisq, lpcTid08, lpcTid13,
  bibleLive, bibleCisq, bibleTid08, bibleTid13,
  oursLive, oursCisq, oursTid08, oursTid13
];

// trendlines (type, centre x0, coefficients, x range)
const fitType = ["log","pow","poly","poly","poly","poly","poly","poly","poly","poly","poly","poly","poly","log","log","poly","poly","poly","poly","poly"];
const fitCenter = [0,0,0.394,0.51, 0.155,0,0,0.17, 0.527,0.403,0.9,0.843, 0,0,0,0, 0,0,0,0];
const fitCoef = [[8.14,-17.64],[0.0519,-0.888],[5.55,0,-22.7],[5.57,0,-12.5],
  [22.5,0,2422],[0.882,-7.956,1.265,100.9],[1.029,64.25,-236.1],[5.66,0,-154.7],
  [88.4,0,-268],[1.0,0,-2.5],[2.9,20.94,159.8],[2.2,0,188.5],
  [78.15,-16.34,1.132],[0.584,-0.28],[1.905,1.777],[1.49,0.779,-0.035],
  [87.15,-51.55,9.2],[0.977,-0.7524,0.1484],[1.311,2.403,-0.1142],[1.254,2.246,-0.12]];
const fitRange = [[0.03,0.763],[0.035,0.81],[0.051,0.657],[0.045,0.81],
  [0.005,0.175],[0,0.197],[0.02,0.135],[0.02,0.172],
  [0.238,0.986],[0.108,0.978],[0.76,0.975],[0.759,0.977],
  [0.17,6.23],[0.245,6.85],[1.11,7.31],[1.05,9.03],
  [0.12,2.375],[0,2.59],[0.368,2.15],[0.394,2.673]];

// ---------- LAYOUT ----------
const colLeft = [8, 292, 576, 860];
const rowTop = [5, 204, 401, 597, 794];
const plotBox = [ // [left, right] offsets from frame left
  [36,202],[32,211],[22,189],[29,210],
  [36,207],[33,204],[24,193],[23,206],
  [36,208],[32,206],[24,206],[25,207],
  [36,208],[32,206],[22,190],[27,209],
  [36,212],[33,212],[29,212],[29,213]
];
const FW = 227, PLOT_T = 9, PLOT_B = 124;

function fitFn(i){
  const t = fitType[i], c = fitCoef[i], x0 = fitCenter[i];
  if (t === "log") return x => c[0] + c[1]*Math.log(x);
  if (t === "pow") return x => c[0]*Math.pow(x, c[1]);
  return x => c.reduce((s, k, j) => s + k*Math.pow(x - x0, j), 0);
}
const fmt = d => String(+d.toFixed(4));

const svg = d3.select("#chart");
const markerPath = "M-2.4,-2.4L2.4,2.4M-2.4,2.4L2.4,-2.4";

methods.forEach((m, r) => {
  datasets.forEach((ds, c) => {
    const i = r*4 + c;
    const fl = colLeft[c], ft = rowTop[r];
    const g = svg.append("g");
    // frame
    g.append("rect").attr("x", fl+4).attr("y", ft).attr("width", FW-8).attr("height", 147)
      .attr("fill", "#fff").attr("stroke", "#c4c4c4").attr("stroke-width", 1.4);
    g.append("path").attr("d", `M${fl+3},${ft}H${fl}V${ft+150}H${fl+3}`)
      .attr("fill","none").attr("stroke","#000").attr("stroke-width",1.6);
    g.append("path").attr("d", `M${fl+FW-3},${ft}H${fl+FW}V${ft+150}H${fl+FW-3}`)
      .attr("fill","none").attr("stroke","#000").attr("stroke-width",1.6);

    const xt = xTicks[i], yt = yTicks[i];
    const x = d3.scaleLinear().domain([xt[0], xt[xt.length-1]]).range([fl+plotBox[i][0], fl+plotBox[i][1]]);
    const y = d3.scaleLinear().domain([yt[0], yt[yt.length-1]]).range([ft+PLOT_B, ft+PLOT_T]);

    const ax = g.append("g").attr("transform", `translate(0,${ft+PLOT_B})`)
      .call(d3.axisBottom(x).tickValues(xt).tickSize(4).tickSizeOuter(0).tickPadding(4).tickFormat(fmt));
    const ay = g.append("g").attr("transform", `translate(${fl+plotBox[i][0]},0)`)
      .call(d3.axisLeft(y).tickValues(yt).tickSize(4).tickSizeOuter(0).tickPadding(5).tickFormat(fmt));
    [ax, ay].forEach(a => {
      a.select(".domain").attr("stroke", "#868686").attr("stroke-width", 1);
      a.selectAll(".tick line").attr("stroke", "#868686");
      a.selectAll(".tick text").attr("fill", "#3a3a3a")
        .style("font-family", "'Liberation Sans', Arial, sans-serif")
        .style("font-size", "11px").style("font-weight", "bold");
    });

    // scatter markers
    g.append("g").selectAll("path").data(points[i]).join("path")
      .attr("transform", d => `translate(${x(d[0])},${y(d[1])})`)
      .attr("d", markerPath).attr("fill", "none")
      .attr("stroke", "#2c84d2").attr("stroke-width", 1.25);

    // trendline
    const f = fitFn(i), [a0, a1] = fitRange[i];
    const xs = d3.range(0, 121).map(k => a0 + (a1 - a0)*k/120);
    g.append("path").datum(xs)
      .attr("d", d3.line().x(v => x(v)).y(v => y(f(v))).curve(d3.curveLinear))
      .attr("fill", "none").attr("stroke", "#000").attr("stroke-width", 1.9);

    // label
    g.append("text").attr("x", fl + FW/2).attr("y", ft + 188)
      .attr("text-anchor", "middle")
      .style("font-family", "'Liberation Serif', 'Times New Roman', serif")
      .style("font-size", "33px").attr("fill", "#000")
      .text(`${m},${ds}`);
  });
});
</script>
</body></html>
